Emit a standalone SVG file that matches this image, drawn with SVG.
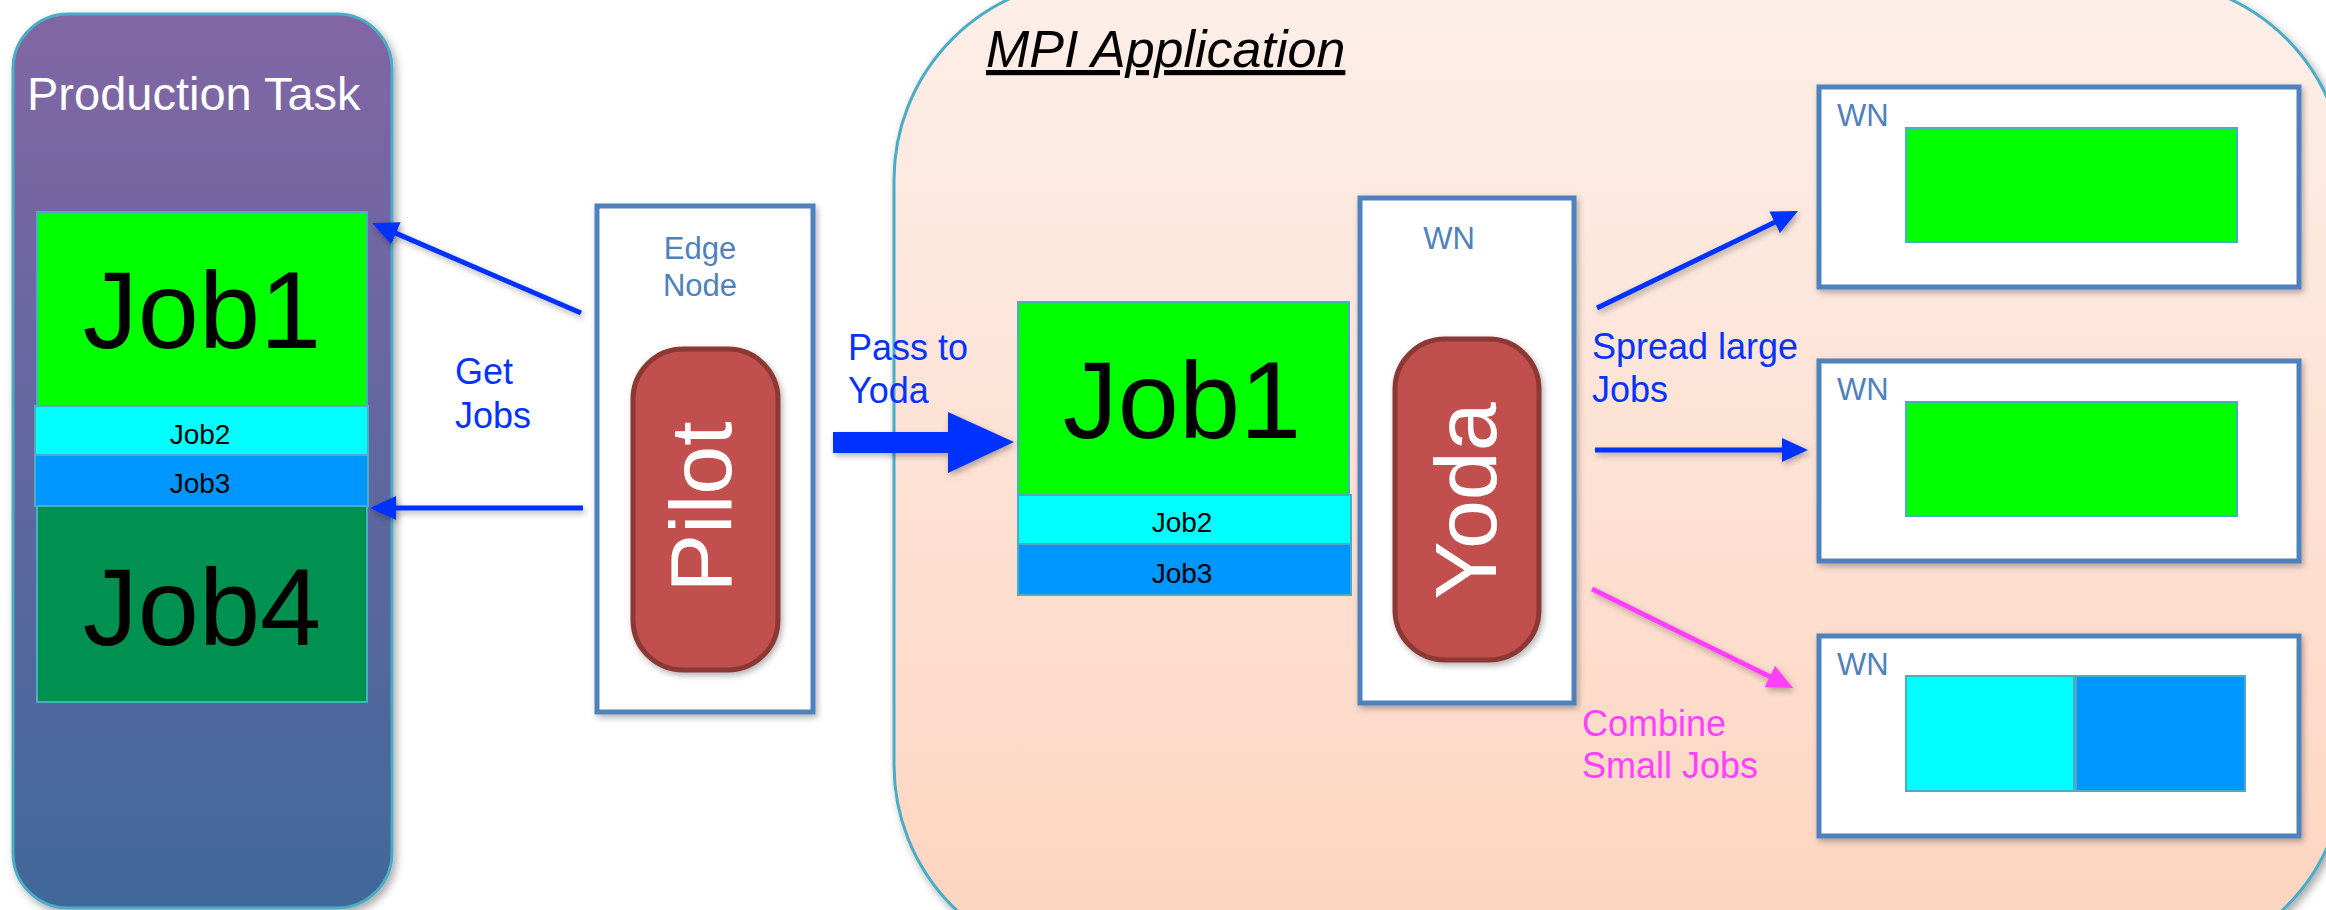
<svg xmlns="http://www.w3.org/2000/svg" width="2326" height="910" viewBox="0 0 2326 910">
  <defs>
    <linearGradient id="gProd" x1="0" y1="0" x2="0" y2="1">
      <stop offset="0" stop-color="#8166a4"/>
      <stop offset="1" stop-color="#41679a"/>
    </linearGradient>
    <linearGradient id="gMpi" x1="0" y1="0" x2="0" y2="1">
      <stop offset="0" stop-color="#fdefe9"/>
      <stop offset="1" stop-color="#fdd4bf"/>
    </linearGradient>
    <filter id="sh" x="-10%" y="-10%" width="130%" height="130%">
      <feDropShadow dx="3" dy="4" stdDeviation="4" flood-color="#000" flood-opacity="0.35"/>
    </filter>
    <filter id="shs" x="-20%" y="-20%" width="140%" height="140%">
      <feDropShadow dx="2" dy="3" stdDeviation="3" flood-color="#000" flood-opacity="0.3"/>
    </filter>
    <filter id="shl" filterUnits="userSpaceOnUse" x="0" y="0" width="2326" height="910">
      <feDropShadow dx="2" dy="3" stdDeviation="3" flood-color="#000" flood-opacity="0.3"/>
    </filter>
    <marker id="ahBlue" markerUnits="userSpaceOnUse" markerWidth="26" markerHeight="24" refX="6" refY="12" orient="auto">
      <path d="M0,0 L26,12 L0,24 z" fill="#0433ff"/>
    </marker>
    <marker id="ahPink" markerUnits="userSpaceOnUse" markerWidth="26" markerHeight="24" refX="6" refY="12" orient="auto">
      <path d="M0,0 L26,12 L0,24 z" fill="#ff40ff"/>
    </marker>
    <style>
      text { font-family: "Liberation Sans", Arial, sans-serif; }
      .job { stroke: #4bacc6; stroke-width: 2; }
      .g1 { fill: #00ff00; }
      .g2 { fill: #00ffff; }
      .g3 { fill: #0096ff; }
      .g4 { fill: #00904f; }
      .big { font-size: 110px; fill: #000; text-anchor: middle; }
      .small { font-size: 28px; fill: #000; text-anchor: middle; }
      .box { fill: #fff; stroke: #4f81bd; stroke-width: 5; }
      .wn { font-size: 31px; fill: #4f81bd; }
      .lbl { font-size: 36px; fill: #0433ff; }
      .pink { font-size: 36px; fill: #ff40ff; }
      .pill { fill: #c0504d; stroke: #8c3836; stroke-width: 5; }
      .pillText { font-size: 88px; fill: #fff; text-anchor: middle; }
      .conn { stroke: #0433ff; stroke-width: 5; fill: none; }
    </style>
  </defs>

  <!-- MPI Application container -->
  <g id="mpi-application">
    <rect x="894" y="-20" width="1451" height="985" rx="200" ry="200" fill="url(#gMpi)" stroke="#4bacc6" stroke-width="3" filter="url(#sh)"/>
    <text x="986" y="67" font-size="52" font-style="italic" text-decoration="underline" fill="#000">MPI Application</text>
  </g>

  <!-- Production Task -->
  <g id="production-task">
    <rect x="13" y="14" width="379" height="894" rx="55" ry="55" fill="url(#gProd)" stroke="#4bacc6" stroke-width="3" filter="url(#sh)"/>
    <text x="27" y="110" font-size="47" fill="#fff">Production Task</text>
    <g id="pt-job1">
      <rect class="job g1" x="37" y="212" width="330" height="194"/>
      <text class="big" x="202" y="348">Job1</text>
    </g>
    <g id="pt-job2">
      <rect class="job g2" x="35" y="406" width="333" height="49"/>
      <text class="small" x="200" y="444">Job2</text>
    </g>
    <g id="pt-job3">
      <rect class="job g3" x="35" y="455" width="333" height="51"/>
      <text class="small" x="200" y="493">Job3</text>
    </g>
    <g id="pt-job4">
      <rect class="job g4" x="37" y="506" width="330" height="196"/>
      <text class="big" x="202" y="645">Job4</text>
    </g>
  </g>

  <!-- Edge Node -->
  <g id="edge-node">
    <rect class="box" x="597" y="206" width="216" height="506" filter="url(#shs)"/>
    <text class="wn" x="700" y="259" text-anchor="middle">Edge</text>
    <text class="wn" x="700" y="296" text-anchor="middle">Node</text>
    <g id="pilot">
      <rect class="pill" x="633" y="349" width="145" height="321" rx="50" ry="50" filter="url(#shs)"/>
      <text class="pillText" transform="translate(731,507) rotate(-90)">Pilot</text>
    </g>
  </g>

  <!-- Middle job stack -->
  <g id="mpi-jobs">
    <g id="mpi-job1">
      <rect class="job g1" x="1018" y="302" width="331" height="193"/>
      <text class="big" x="1182" y="438">Job1</text>
    </g>
    <g id="mpi-job2">
      <rect class="job g2" x="1018" y="495" width="333" height="49"/>
      <text class="small" x="1182" y="532">Job2</text>
    </g>
    <g id="mpi-job3">
      <rect class="job g3" x="1018" y="544" width="333" height="51"/>
      <text class="small" x="1182" y="583">Job3</text>
    </g>
  </g>

  <!-- Yoda WN -->
  <g id="yoda-wn">
    <rect class="box" x="1360" y="198" width="214" height="505" filter="url(#shs)"/>
    <text class="wn" x="1449" y="249" text-anchor="middle">WN</text>
    <g id="yoda">
      <rect class="pill" x="1395" y="339" width="144" height="321" rx="50" ry="50" filter="url(#shs)"/>
      <text class="pillText" transform="translate(1496,501) rotate(-90)">Yoda</text>
    </g>
  </g>

  <!-- Worker nodes -->
  <g id="wn1">
    <rect class="box" x="1819" y="87" width="480" height="200" filter="url(#shs)"/>
    <text class="wn" x="1837" y="126">WN</text>
    <rect class="job g1" x="1906" y="128" width="331" height="114"/>
  </g>
  <g id="wn2">
    <rect class="box" x="1819" y="361" width="480" height="200" filter="url(#shs)"/>
    <text class="wn" x="1837" y="400">WN</text>
    <rect class="job g1" x="1906" y="402" width="331" height="114"/>
  </g>
  <g id="wn3">
    <rect class="box" x="1819" y="636" width="480" height="200" filter="url(#shs)"/>
    <text class="wn" x="1837" y="675">WN</text>
    <rect class="job g2" x="1906" y="676" width="168" height="115"/>
    <rect class="job g3" x="2076" y="676" width="169" height="115"/>
  </g>

  <!-- Connectors -->
  <g id="connectors" filter="url(#shl)">
    <line class="conn" x1="581" y1="313" x2="390.4" y2="230.9" marker-end="url(#ahBlue)"/>
    <line class="conn" x1="583" y1="508" x2="390" y2="508" marker-end="url(#ahBlue)"/>
    <polygon points="833,432 948,432 948,412 1014,442 948,473 948,453 833,453" fill="#0433ff"/>
    <line class="conn" x1="1597" y1="308" x2="1780" y2="219.7" marker-end="url(#ahBlue)"/>
    <line class="conn" x1="1595" y1="450" x2="1788" y2="450" marker-end="url(#ahBlue)"/>
    <line x1="1592" y1="589" x2="1775.1" y2="679.2" stroke="#ff40ff" stroke-width="5" marker-end="url(#ahPink)"/>
  </g>

  <!-- Connector labels -->
  <g id="labels">
    <text class="lbl" x="455" y="384">Get</text>
    <text class="lbl" x="455" y="428">Jobs</text>
    <text class="lbl" x="848" y="360">Pass to</text>
    <text class="lbl" x="848" y="403">Yoda</text>
    <text class="lbl" x="1592" y="359">Spread large</text>
    <text class="lbl" x="1592" y="402">Jobs</text>
    <text class="pink" x="1582" y="736">Combine</text>
    <text class="pink" x="1582" y="778">Small Jobs</text>
  </g>
</svg>
